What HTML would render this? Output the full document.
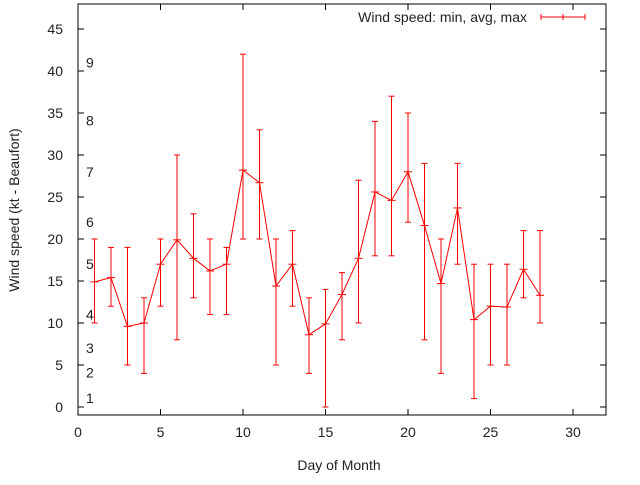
<!DOCTYPE html>
<html><head><meta charset="utf-8"><style>
body{margin:0;background:#fff}
text{font-family:"Liberation Sans",sans-serif;font-size:14px;fill:#222}
</style></head><body>
<svg id="chart" width="640" height="480" xmlns="http://www.w3.org/2000/svg"></svg>
<script>
const days=[1,2,3,4,5,6,7,8,9,10,11,12,13,14,15,16,17,18,19,20,21,22,23,24,25,26,27,28];
const avgSpeed=[14.9,15.4,9.6,10,17,19.9,17.7,16.2,17,28.2,26.7,14.4,17,8.6,9.9,13.4,17.7,25.6,24.6,28,21.6,14.7,23.7,10.4,12,11.9,16.4,13.3];
const minSpeed=[10,12,5,4,12,8,13,11,11,20,20,5,12,4,0,8,10,18,18,22,8,4,17,1,5,5,13,10];
const maxSpeed=[20,19,19,13,20,30,23,20,19,42,33,20,21,13,14,16,27,34,37,35,29,20,29,17,17,17,21,21];
const xTicks=[0,5,10,15,20,25,30];
const yTicks=[0,5,10,15,20,25,30,35,40,45];
const beaufort=["1","2","3","4","5","6","7","8","9"];
const beaufortY=[1.1,4.1,7.0,11.0,17.0,22.0,28.0,34.1,41.0];
const L=78,R=606,T=4,B=415;
const X=v=>78+v*16.5;
const Y=v=>407-v*8.4;
const svg=document.getElementById('chart');
const NS='http://www.w3.org/2000/svg';
function mk(tag,attrs,parent){const e=document.createElementNS(NS,tag);for(const k in attrs)e.setAttribute(k,attrs[k]);(parent||svg).appendChild(e);return e;}
const frame=mk('rect',{x:L,y:T,width:R-L,height:B-T,fill:'none',stroke:'#000','stroke-width':1});


xTicks.forEach(t=>{
  const x=X(t);
  mk('line',{x1:x,y1:B,x2:x,y2:B-6,stroke:'#000'});
  mk('line',{x1:x,y1:T,x2:x,y2:T+6,stroke:'#000'});
  const tx=mk('text',{x:x,y:B+22,'text-anchor':'middle'});tx.textContent=t;
  
  
});
yTicks.forEach(t=>{
  const y=Y(t);
  mk('line',{x1:L,y1:y,x2:L+6,y2:y,stroke:'#000'});
  mk('line',{x1:R,y1:y,x2:R-6,y2:y,stroke:'#000'});
  const tx=mk('text',{x:L-15,y:y+5,'text-anchor':'end'});tx.textContent=t;
  
  
});
beaufort.forEach((b,i)=>{
  const tx=mk('text',{x:86,y:Y(beaufortY[i])+5});tx.textContent=b;
  
  
});
const xt=mk('text',{x:339,y:470,'text-anchor':'middle'});xt.textContent='Day of Month';


const yt=mk('text',{x:0,y:0,'text-anchor':'middle',transform:'translate(19,210) rotate(-90)'});yt.textContent='Wind speed (kt - Beaufort)';


const line=mk('polyline',{points:days.map((d,i)=>X(d)+','+Y(avgSpeed[i])).join(' '),fill:'none',stroke:'#f00','stroke-width':1});


days.forEach((d,i)=>{
  const g=mk('g',{stroke:'#f00','stroke-width':1});
  
  
  const x=X(d);
  mk('line',{x1:x,y1:Y(minSpeed[i]),x2:x,y2:Y(maxSpeed[i])},g);
  mk('line',{x1:x-3,y1:Y(minSpeed[i]),x2:x+3,y2:Y(minSpeed[i])},g);
  mk('line',{x1:x-3,y1:Y(maxSpeed[i]),x2:x+3,y2:Y(maxSpeed[i])},g);
  mk('line',{x1:x-4,y1:Y(avgSpeed[i]),x2:x+4,y2:Y(avgSpeed[i])},g);
});
const lg=mk('g',{});


const lt=mk('text',{x:527,y:22,'text-anchor':'end'},lg);lt.textContent='Wind speed: min, avg, max';
mk('line',{x1:541,y1:17,x2:585,y2:17,stroke:'#f00'},lg);
mk('line',{x1:541,y1:14,x2:541,y2:20,stroke:'#f00'},lg);
mk('line',{x1:585,y1:14,x2:585,y2:20,stroke:'#f00'},lg);
mk('line',{x1:563,y1:14,x2:563,y2:20,stroke:'#f00'},lg);
</script>
</body></html>
